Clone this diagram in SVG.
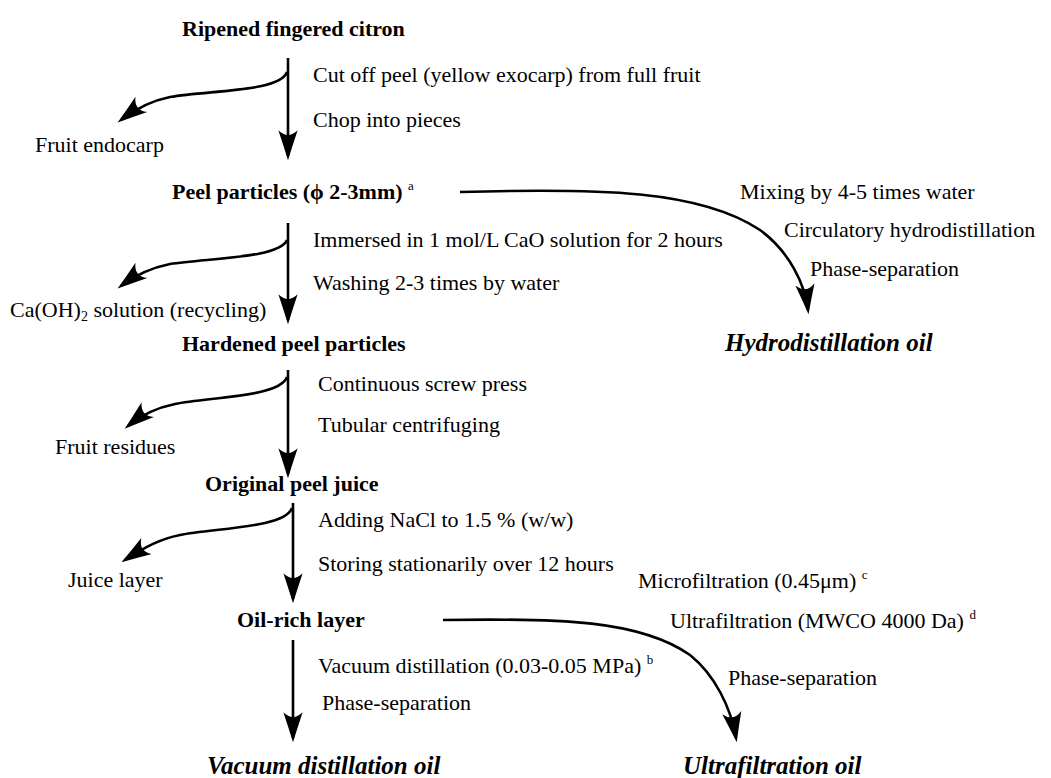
<svg xmlns="http://www.w3.org/2000/svg" width="1051" height="778" viewBox="0 0 1051 778">
<style>
text{font-family:"Liberation Serif","Times New Roman",serif;font-size:22px;fill:#000}
.b{font-weight:bold}
.bi{font-weight:bold;font-style:italic;font-size:25px}
.sup{font-size:13px}
.c{fill:none;stroke:#000;stroke-width:2.6}
</style>
<defs>
<marker id="ah" markerUnits="userSpaceOnUse" markerWidth="30" markerHeight="22" viewBox="0 0 28 20" refX="24" refY="10" orient="auto">
<path d="M0,1 Q15,6 28,10 Q15,14 0,19 Q9,10 0,1 Z" fill="#000"/>
</marker>
</defs>
<rect width="1051" height="778" fill="#fff"/>
<g id="connectors">
<path class="c" d="M288,58 V156" marker-end="url(#ah)"/>
<path class="c" d="M287,72 C280,92 210,90 170,97 C150,101 134,110 121,120" marker-end="url(#ah)"/>
<path class="c" d="M288,223 V320" marker-end="url(#ah)"/>
<path class="c" d="M287,240 C280,258 210,258 170,264 C150,268 134,276 121,286" marker-end="url(#ah)"/>
<path class="c" d="M288,370 V474" marker-end="url(#ah)"/>
<path class="c" d="M287,377 C280,397 210,397 175,404 C155,408 140,416 128,426" marker-end="url(#ah)"/>
<path class="c" d="M293,503 V599" marker-end="url(#ah)"/>
<path class="c" d="M292,508 C285,528 215,528 180,535 C160,539 145,547 125,560" marker-end="url(#ah)"/>
<path class="c" d="M293,640 V738" marker-end="url(#ah)"/>
<path class="c" d="M460,192 C600,188 700,190 760,230 C790,252 805,285 808,310" marker-end="url(#ah)"/>
<path class="c" d="M443,620 C560,618 640,620 690,655 C715,675 731,708 736,738" marker-end="url(#ah)"/>
</g>
<g id="n-ripened"><text class="b" x="182" y="36">Ripened fingered citron</text></g>
<g id="s1"><text x="313" y="82">Cut off peel (yellow exocarp) from full fruit</text><text x="313" y="127">Chop into pieces</text></g>
<g id="n-endocarp"><text x="35" y="152">Fruit endocarp</text></g>
<g id="n-peel"><text class="b" x="172" y="199">Peel particles (ϕ 2-3mm) <tspan class="sup" dy="-9" font-weight="normal">a</tspan></text></g>
<g id="s-hydro"><text x="740" y="199">Mixing by 4-5 times water</text><text x="784" y="237">Circulatory hydrodistillation</text><text x="810" y="276">Phase-separation</text></g>
<g id="n-hydro"><text class="bi" x="725" y="351">Hydrodistillation oil</text></g>
<g id="s2"><text x="313" y="247">Immersed in 1 mol/L CaO solution for 2 hours</text><text x="313" y="290">Washing 2-3 times by water</text></g>
<g id="n-caoh"><text x="10" y="317">Ca(OH)<tspan font-size="14" dy="4">2</tspan><tspan dy="-4"> solution (recycling)</tspan></text></g>
<g id="n-hardened"><text class="b" x="182" y="351">Hardened peel particles</text></g>
<g id="s3"><text x="318" y="391">Continuous screw press</text><text x="318" y="432">Tubular centrifuging</text></g>
<g id="n-residues"><text x="55" y="454">Fruit residues</text></g>
<g id="n-juice"><text class="b" x="205" y="491">Original peel juice</text></g>
<g id="s4"><text x="318" y="527">Adding NaCl to 1.5 % (w/w)</text><text x="318" y="571">Storing stationarily over 12 hours</text></g>
<g id="n-juicelayer"><text x="68" y="587">Juice layer</text></g>
<g id="n-oilrich"><text class="b" x="237" y="627">Oil-rich layer</text></g>
<g id="s5"><text x="318" y="673">Vacuum distillation (0.03-0.05 MPa) <tspan class="sup" dy="-9">b</tspan></text><text x="322" y="710">Phase-separation</text></g>
<g id="s-ultra"><text x="638" y="588">Microfiltration (0.45μm) <tspan class="sup" dy="-9">c</tspan></text><text x="670" y="628">Ultrafiltration (MWCO 4000 Da) <tspan class="sup" dy="-9">d</tspan></text><text x="728" y="685">Phase-separation</text></g>
<g id="n-vacoil"><text class="bi" x="207" y="774">Vacuum distillation oil</text></g>
<g id="n-ultraoil"><text class="bi" x="683" y="774">Ultrafiltration oil</text></g>
</svg>
